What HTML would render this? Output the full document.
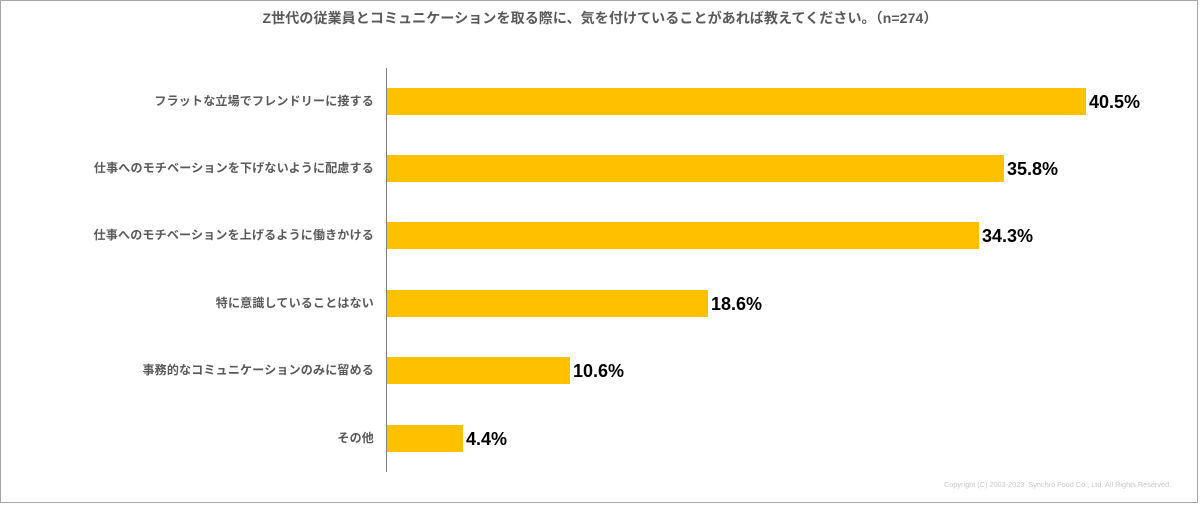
<!DOCTYPE html>
<html><head><meta charset="utf-8"><style>
body{margin:0;width:1200px;height:505px;background:#fff;position:relative;overflow:hidden;font-family:"Liberation Sans","Noto Sans CJK JP",sans-serif}
.frame{position:absolute;left:0;top:0;width:1196px;height:501px;border:1px solid #a6a6a6}
.title{position:absolute;left:0;width:1200px;top:8px;text-align:center;font-size:14px;font-weight:bold;color:#595959;letter-spacing:0.1px}
.axis{position:absolute;left:386px;top:68px;width:1px;height:404px;background:#7f7f7f}
.bar{position:absolute;left:387px;height:27px;background:#ffc000}
.lab{position:absolute;right:826px;font-size:12px;font-weight:bold;color:#595959;white-space:nowrap;line-height:27px;letter-spacing:0.2px}
.val{position:absolute;font-size:18px;font-weight:bold;color:#000;line-height:27px}
.copy{position:absolute;left:944px;top:480px;font-size:7.3px;color:#c8c8c8;white-space:nowrap}
</style></head><body>
<div class="frame"></div>
<div class="title">Z世代の従業員とコミュニケーションを取る際に、気を付けていることがあれば教えてください。（n=274）</div>
<div class="axis"></div>
<div class="lab" style="top:88px">フラットな立場でフレンドリーに接する</div>
<div class="bar" style="top:88px;width:699px"></div><div class="val" style="top:89px;left:1089px">40.5%</div>
<div class="lab" style="top:155px">仕事へのモチベーションを下げないように配慮する</div>
<div class="bar" style="top:155px;width:617px"></div><div class="val" style="top:156px;left:1007px">35.8%</div>
<div class="lab" style="top:222px">仕事へのモチベーションを上げるように働きかける</div>
<div class="bar" style="top:222px;width:592px"></div><div class="val" style="top:223px;left:982px">34.3%</div>
<div class="lab" style="top:290px">特に意識していることはない</div>
<div class="bar" style="top:290px;width:321px"></div><div class="val" style="top:291px;left:711px">18.6%</div>
<div class="lab" style="top:357px">事務的なコミュニケーションのみに留める</div>
<div class="bar" style="top:357px;width:183px"></div><div class="val" style="top:358px;left:573px">10.6%</div>
<div class="lab" style="top:425px">その他</div>
<div class="bar" style="top:425px;width:76px"></div><div class="val" style="top:426px;left:466px">4.4%</div>
<div class="copy">Copyright (C) 2003-2023 &nbsp;Synchro Food Co., Ltd. All Rights Reserved.</div>
</body></html>
